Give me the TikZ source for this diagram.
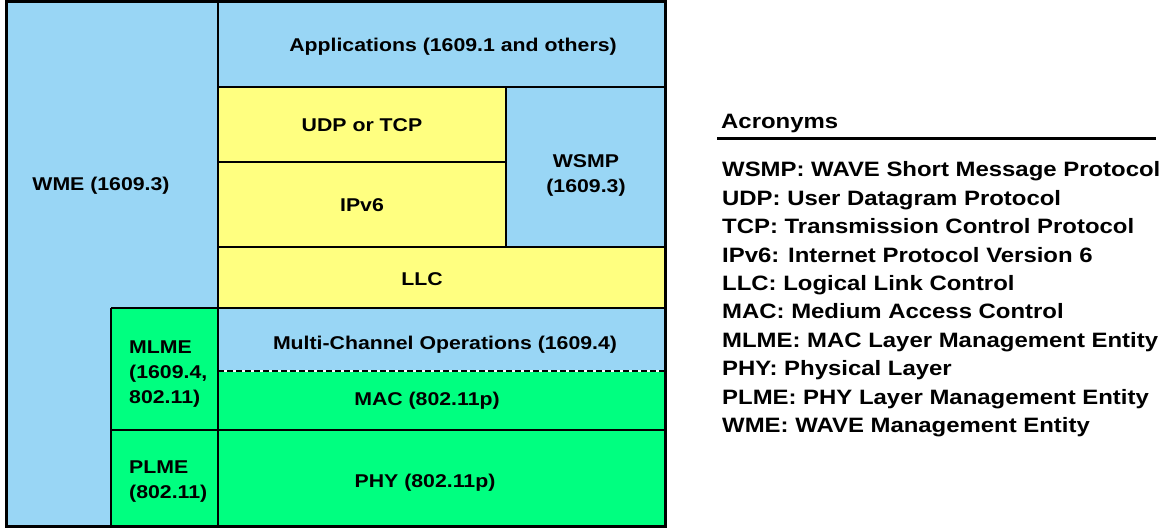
\documentclass[tikz,border=0pt]{standalone}
\usepackage{fontspec}
\setmainfont{Liberation Sans}[FakeStretch=1.15]
\definecolor{wblue}{RGB}{153,214,245}
\definecolor{wyellow}{RGB}{255,255,128}
\definecolor{wgreen}{RGB}{0,255,128}
\tikzset{
  lbl/.style={font=\fontsize{18.5}{22}\selectfont\bfseries, inner sep=0pt, anchor=base},
  lbll/.style={font=\fontsize{18.5}{25}\selectfont\bfseries, inner sep=0pt, anchor=north west, align=left},
  acr/.style={font=\fontsize{20.8}{24}\selectfont\bfseries, inner sep=0pt, anchor=base west},
  divider/.style={line width=2pt},
}
\begin{document}
\begin{tikzpicture}[x=1pt,y=-1pt]
\useasboundingbox (0,0) rectangle (1173,529);
% fills
\fill[wblue] (6,2) rectangle (665,526);
\fill[wyellow] (218,87) rectangle (506,247);
\fill[wyellow] (218,247) rectangle (665,308);
\fill[wgreen] (111,308) rectangle (218,526);
\fill[wgreen] (218,371) rectangle (665,526);
% lines
\draw[divider] (218,2) -- (218,526);
\draw[divider] (218,87) -- (665,87);
\draw[divider] (218,162) -- (506,162);
\draw[divider] (506,87) -- (506,247);
\draw[divider] (218,247) -- (665,247);
\draw[divider] (111,308) -- (665,308);
\draw[line width=1.5pt] (111,308) -- (111,526);
\draw[divider] (111,430) -- (665,430);
\draw[line width=2pt, white] (218,371) -- (665,371);
\draw[line width=2pt, dash pattern=on 6pt off 3pt] (218,371) -- (665,371);
\draw[line width=3pt] (6,2) rectangle (665,526);
% labels
\node[lbl] (app) at (453,52) {Applications (1609.1 and others)};
\node[lbl] (udp) at (362,132) {UDP or TCP};
\node[lbl] (ipv6) at (362,212) {IPv6};
\node[lbll, align=center, anchor=north] (wsmp) at (586,154) {WSMP\\(1609.3)};
\node[lbl] (llc) at (422,286) {LLC};
\node[lbl] (wme) at (101,191) {WME (1609.3)};
\node[lbl] (mco) at (445,350) {Multi-Channel Operations (1609.4)};
\node[lbl] (mac) at (427,405) {MAC (802.11p)};
\node[lbl] (phy) at (425,487) {PHY (802.11p)};
\node[lbll] (mlme) at (129,341) {MLME\\(1609.4,\\802.11)};
\node[lbll] (plme) at (129,461) {PLME\\(802.11)};
% acronyms
\node[acr] (acrh) at (721,129) {Acronyms};
\draw[line width=3pt] (717,139) -- (1156,139);
\node[acr] (a1) at (722,177.0) {WSMP: WAVE Short Message Protocol};
\node[acr] (a2) at (722,205.4) {UDP: User Datagram Protocol};
\node[acr] (a3) at (722,233.8) {TCP: Transmission Control Protocol};
\node[acr] (a4) at (722,262.2) {IPv6: Internet Protocol Version 6};
\node[acr] (a5) at (722,290.6) {LLC: Logical Link Control};
\node[acr] (a6) at (722,319.0) {MAC: Medium Access Control};
\node[acr] (a7) at (722,347.4) {MLME: MAC Layer Management Entity};
\node[acr] (a8) at (722,375.8) {PHY: Physical Layer};
\node[acr] (a9) at (722,404.2) {PLME: PHY Layer Management Entity};
\node[acr] (a10) at (722,432.6) {WME: WAVE Management Entity};
\end{tikzpicture}
\end{document}
